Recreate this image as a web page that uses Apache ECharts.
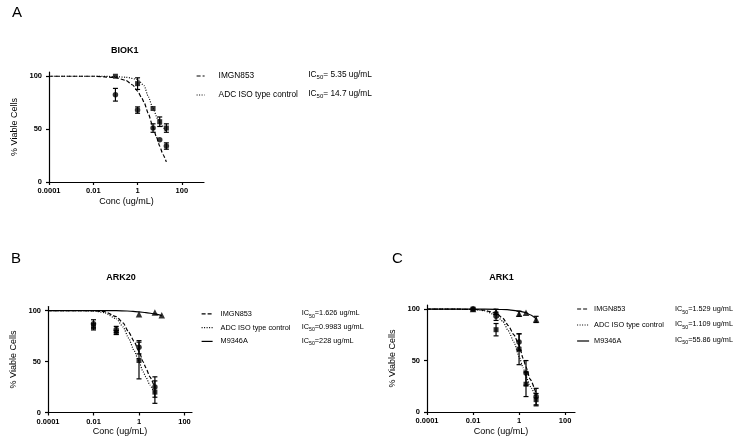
<!DOCTYPE html>
<html>
<head>
<meta charset="utf-8">
<script src="https://cdn.jsdelivr.net/npm/echarts@6/dist/echarts.min.js"></script>
<style>
html,body{margin:0;padding:0;background:#fff;}
#chart{width:741px;height:446px;}
</style>
</head>
<body>
<div id="chart"></div>
<script>
// ---------- tick labels ----------
const X_TICKS = [0.0001, 0.01, 1, 100];
const X_TICK_LABELS = ['0.0001', '0.01', '1', '100'];
const Y_TICKS = [0, 50, 100];

// ---------- Panel A : BIOK1 ----------
const A_conc = [0.1, 1, 5, 10, 20];
const A_imgn = [82.5, 68, 51, 40, 34];
const A_imgn_err = [6, 3, 4, 0, 3];
const A_iso = [100, 93, 69.5, 57, 51];
const A_iso_err = [0, 5.5, 0, 4.5, 4];
const A_imgn_fit_x = [0.0001, 0.001, 0.01, 0.1, 0.3, 0.6, 1, 1.5, 2, 3, 5, 7, 10, 14, 20];
const A_imgn_fit_y = [100, 100, 100, 98.8, 96, 91.7, 86, 80, 75, 65, 52, 43, 34, 26, 19];
const A_iso_fit_x = [0.0001, 0.001, 0.01, 0.1, 0.3, 1, 2, 3, 5, 8, 12, 20];
const A_iso_fit_y = [100, 100, 100, 99.7, 99, 97, 91, 81, 69.5, 60, 54, 47];
const A_ic50 = ['= 5.35 ug/mL', '= 14.7 ug/mL'];

// ---------- Panel B : ARK20 ----------
const B_conc = [0.01, 0.1, 1, 5];
const B_imgn = [87, 81.5, 64, 25];
const B_imgn_err = [4, 3, 6.5, 10];
const B_iso = [84, 78.5, 51, 20];
const B_iso_err = [3, 2, 18, 11];
const B_m9_conc = [1, 5, 10];
const B_m9 = [96.5, 98, 95.5];
const B_m9_err = [0, 0, 0];
const B_fit_x = [0.0001, 0.001, 0.01, 0.03, 0.1, 0.2, 0.35, 0.6, 1, 1.5, 2, 3, 5];
const B_imgn_fit_y = [100, 100, 99.8, 99, 94, 88, 79, 70, 60, 50, 44, 35, 24];
const B_iso_fit_y = [100, 100, 99.7, 98, 92, 84, 73, 61, 50, 40, 35, 27, 18];
const B_m9_fit_x = [0.0001, 0.01, 0.1, 0.3, 1, 2, 5, 10];
const B_m9_fit_y = [100, 100, 99.9, 99.6, 98.7, 98, 96.8, 95];
const B_ic50 = ['=1.626 ug/mL', '=0.9983 ug/mL', '=228 ug/mL'];

// ---------- Panel C : ARK1 ----------
const C_conc = [0.01, 0.1, 1, 2, 5.5];
const C_imgn = [100, 93, 68, 38, 15];
const C_imgn_err = [0, 4, 8, 12, 8];
const C_iso = [100, 80, 61, 27, 12];
const C_iso_err = [0, 6, 15, 12, 6];
const C_m9 = [100, 97.5, 95.5, 96.5, 90];
const C_m9_err = [0, 2.5, 2.5, 0, 3];
const C_fit_x = [0.0001, 0.001, 0.01, 0.03, 0.1, 0.2, 0.34, 0.6, 1, 1.5, 2, 3, 5.5];
const C_imgn_fit_y = [100, 100, 99.8, 99, 96, 91, 84, 75, 65, 52, 44, 32, 18];
const C_iso_fit_y = [100, 100, 99.7, 98.5, 94, 88, 79, 68, 54, 43, 35, 25, 14];
const C_m9_fit_x = [0.0001, 0.01, 0.1, 0.3, 1, 2, 3, 5.5];
const C_m9_fit_y = [100, 100, 99.8, 99.5, 98, 96.5, 94.5, 90.5];
const C_ic50 = ['=1.529 ug/mL', '=1.109 ug/mL', '=55.86 ug/mL'];

const NAMES = ['IMGN853', 'ADC ISO type control', 'M9346A'];
const TITLES = ['BIOK1', 'ARK20', 'ARK1'];
const LETTERS = ['A', 'B', 'C'];

// ---------- helpers ----------
const FONT = 'Liberation Sans, Arial, sans-serif';
const lg = v => Math.round(Math.log10(v) * 1e6) / 1e6;
const pts = (xs, ys) => xs.map((x, i) => [lg(x), ys[i]]);
const errs = (xs, ys, es) => xs.map((x, i) => [lg(x), ys[i] - es[i], ys[i] + es[i], es[i]]).filter(d => d[3] > 0);
const DASH = { IMGN853: [4, 2], 'ADC ISO type control': [1, 1.5], M9346A: 'solid' };

const panels = [
  { grid: { left: 49, top: 72, width: 155, height: 110 }, xmax: 3,
    fits: [[NAMES[0], A_imgn_fit_x, A_imgn_fit_y], [NAMES[1], A_iso_fit_x, A_iso_fit_y]],
    data: [[NAMES[0], A_conc, A_imgn, A_imgn_err, 'circle', 5.5], [NAMES[1], A_conc, A_iso, A_iso_err, 'rect', 5]] },
  { grid: { left: 48, top: 306.5, width: 144, height: 106 }, xmax: 2.33,
    fits: [[NAMES[0], B_fit_x, B_imgn_fit_y], [NAMES[1], B_fit_x, B_iso_fit_y], [NAMES[2], B_m9_fit_x, B_m9_fit_y]],
    data: [[NAMES[0], B_conc, B_imgn, B_imgn_err, 'circle', 5.5], [NAMES[1], B_conc, B_iso, B_iso_err, 'rect', 5],
           [NAMES[2], B_m9_conc, B_m9, B_m9_err, 'triangle', 6.5]] },
  { grid: { left: 427, top: 305, width: 148, height: 107 }, xmax: 2.43,
    fits: [[NAMES[0], C_fit_x, C_imgn_fit_y], [NAMES[1], C_fit_x, C_iso_fit_y], [NAMES[2], C_m9_fit_x, C_m9_fit_y]],
    data: [[NAMES[0], C_conc, C_imgn, C_imgn_err, 'circle', 5.5], [NAMES[1], C_conc, C_iso, C_iso_err, 'rect', 5],
           [NAMES[2], C_conc, C_m9, C_m9_err, 'triangle', 6.5]] }
];

const grids = [], xAxes = [], yAxes = [], series = [];
const xTickVals = X_TICKS.map(lg);
panels.forEach((p, k) => {
  grids.push(Object.assign({ containLabel: false }, p.grid));
  xAxes.push({
    type: 'value', gridIndex: k, min: -4, max: p.xmax,
    name: 'Conc (ug/mL)', nameLocation: 'middle', nameGap: 15,
    nameTextStyle: { fontFamily: FONT, fontSize: 9, color: '#000' },
    axisLine: { onZero: false, lineStyle: { color: '#000', width: 1.2 } },
    axisTick: { show: true, length: 3, lineStyle: { color: '#000', width: 1.2 }, customValues: xTickVals },
    axisLabel: { customValues: xTickVals, margin: 5, fontFamily: FONT, fontSize: 7.5, fontWeight: 'bold', color: '#000',
      formatter: v => { const i = xTickVals.findIndex(t => Math.abs(t - v) < 1e-6); return i >= 0 ? X_TICK_LABELS[i] : ''; } },
    splitLine: { show: false }
  });
  yAxes.push({
    type: 'value', gridIndex: k, min: 0, max: 104,
    name: '% Viable Cells', nameLocation: 'middle', nameGap: 30, nameRotate: 90,
    nameTextStyle: { fontFamily: FONT, fontSize: 9, color: '#000' },
    axisLine: { show: true, onZero: false, lineStyle: { color: '#000', width: 1.2 } },
    axisTick: { show: true, length: 3, lineStyle: { color: '#000', width: 1.2 }, customValues: Y_TICKS },
    axisLabel: { customValues: Y_TICKS, margin: 7, fontFamily: FONT, fontSize: 7.5, fontWeight: 'bold', color: '#000' },
    splitLine: { show: false }
  });
  p.fits.forEach(f => {
    series.push({
      type: 'line', name: f[0], xAxisIndex: k, yAxisIndex: k,
      data: pts(f[1], f[2]), symbol: 'none', smooth: 0.2, smoothMonotone: 'x', silent: true,
      lineStyle: { color: '#000', width: 1.2, type: DASH[f[0]] },
      itemStyle: { color: '#000' }, z: 2
    });
  });
  p.data.forEach(d => {
    series.push({
      type: 'scatter', name: d[0] + ' data ' + k, xAxisIndex: k, yAxisIndex: k,
      data: pts(d[1], d[2]), symbol: d[4], symbolSize: d[5],
      itemStyle: { color: '#000' }, z: 4
    });
    series.push({
      type: 'custom', name: d[0] + ' err ' + k, xAxisIndex: k, yAxisIndex: k,
      data: errs(d[1], d[2], d[3]), z: 3,
      renderItem: (params, api) => {
        const top = api.coord([api.value(0), api.value(2)]);
        const bot = api.coord([api.value(0), api.value(1)]);
        const s = { stroke: '#000', lineWidth: 1.2 };
        return { type: 'group', children: [
          { type: 'line', shape: { x1: top[0], y1: top[1], x2: bot[0], y2: bot[1] }, style: s },
          { type: 'line', shape: { x1: top[0] - 2.5, y1: top[1], x2: top[0] + 2.5, y2: top[1] }, style: s },
          { type: 'line', shape: { x1: bot[0] - 2.5, y1: bot[1], x2: bot[0] + 2.5, y2: bot[1] }, style: s }
        ] };
      }
    });
  });
});

// titles & panel letters
const titles = [
  { text: LETTERS[0], left: 12, top: 5.5, textStyle: { fontFamily: FONT, fontSize: 15, fontWeight: 'normal', color: '#000' } },
  { text: LETTERS[1], left: 11, top: 251.5, textStyle: { fontFamily: FONT, fontSize: 15, fontWeight: 'normal', color: '#000' } },
  { text: LETTERS[2], left: 392, top: 251.5, textStyle: { fontFamily: FONT, fontSize: 15, fontWeight: 'normal', color: '#000' } },
  { text: TITLES[0], left: 124.7, top: 46.5, textAlign: 'center', textStyle: { fontFamily: FONT, fontSize: 9, fontWeight: 'bold', color: '#000' } },
  { text: TITLES[1], left: 121, top: 273.5, textAlign: 'center', textStyle: { fontFamily: FONT, fontSize: 9, fontWeight: 'bold', color: '#000' } },
  { text: TITLES[2], left: 501.5, top: 273.5, textAlign: 'center', textStyle: { fontFamily: FONT, fontSize: 9, fontWeight: 'bold', color: '#000' } }
].map(t => Object.assign({ padding: 0 }, t));

// legends
const legends = [
  { left: 196, top: 72, itemWidth: 8, itemHeight: 10, itemGap: 11, data: NAMES.slice(0, 2), fs: 8.3, pad: 9 },
  { left: 201, top: 309.8, itemWidth: 11, itemHeight: 10, itemGap: 5.8, data: NAMES, fs: 7.3, pad: 3 },
  { left: 576.5, top: 305, itemWidth: 12, itemHeight: 10, itemGap: 8, data: NAMES, fs: 7.3, pad: 0 }
].map(l => ({
  orient: 'vertical', left: l.left, top: l.top, itemWidth: l.itemWidth, itemHeight: l.itemHeight, itemGap: l.itemGap,
  padding: 0, selectedMode: false, data: l.data,
  itemStyle: { opacity: 0, borderWidth: 0 },
  lineStyle: { width: 1.2 },
  textStyle: { fontFamily: FONT, fontSize: l.fs, color: '#000', padding: [0, 0, 0, l.pad] }
}));

// IC50 labels
const ctx = document.createElement('canvas').getContext('2d');
function icGroup(x, ys, vals, fs) {
  ctx.font = fs + 'px ' + FONT;
  const wIC = ctx.measureText('IC').width;
  ctx.font = (fs * 0.72) + 'px ' + FONT;
  const w50 = ctx.measureText('50').width;
  const out = [];
  ys.forEach((y, i) => {
    out.push({ type: 'text', x: x, y: y, style: { text: 'IC', font: fs + 'px ' + FONT, fill: '#000', verticalAlign: 'middle' } });
    out.push({ type: 'text', x: x + wIC, y: y + 2.8, style: { text: '50', font: (fs * 0.72) + 'px ' + FONT, fill: '#000', verticalAlign: 'middle' } });
    out.push({ type: 'text', x: x + wIC + w50, y: y, style: { text: vals[i], font: fs + 'px ' + FONT, fill: '#000', verticalAlign: 'middle' } });
  });
  return out;
}
const graphics = [].concat(
  icGroup(308.3, [75, 94], A_ic50, 8.3),
  icGroup(301.7, [313.3, 327, 341], B_ic50, 7.3),
  icGroup(675, [309.3, 324.3, 340], C_ic50, 7.3)
);

const chart = echarts.init(document.getElementById('chart'), null, { renderer: 'canvas' });
chart.setOption({
  backgroundColor: '#fff',
  animation: false,
  title: titles,
  legend: legends,
  grid: grids,
  xAxis: xAxes,
  yAxis: yAxes,
  series: series,
  graphic: graphics
});
</script>
</body>
</html>
